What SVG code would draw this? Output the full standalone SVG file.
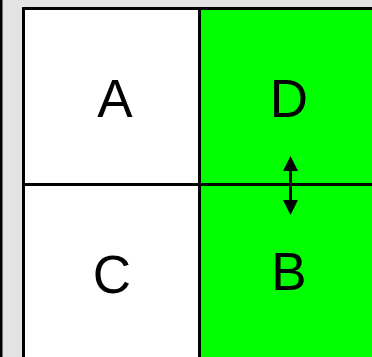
<svg xmlns="http://www.w3.org/2000/svg" width="372" height="357" viewBox="0 0 372 357">
<style>
.cell{stroke:#000;stroke-width:3}
.lbl{font-family:"Liberation Sans",Arial,sans-serif;font-size:53px;fill:#000;text-anchor:middle}
</style>
<defs>
<marker id="ah" viewBox="0 0 10 10" refX="10" refY="5" markerWidth="5" markerHeight="5" markerUnits="strokeWidth" orient="auto-start-reverse">
<path d="M0,0 L10,5 L0,10 z" fill="#000"/>
</marker>
</defs>
<rect x="0" y="0" width="372" height="357" fill="#e3e3e3"/>
<rect x="0" y="0" width="2.5" height="357" fill="#000"/>
<g id="A"><rect class="cell" x="23.5" y="8.5" width="176" height="176" fill="#fff"/><text class="lbl" x="115" y="117">A</text></g>
<g id="D"><rect class="cell" x="199.5" y="8.5" width="178" height="176" fill="#00ff00"/><text class="lbl" x="289" y="117">D</text></g>
<g id="C"><rect class="cell" x="23.5" y="184.5" width="176" height="178" fill="#fff"/><text class="lbl" x="112" y="293">C</text></g>
<g id="B"><rect class="cell" x="199.5" y="184.5" width="178" height="178" fill="#00ff00"/><text class="lbl" x="289" y="290">B</text></g>
<g id="connectors">
<line x1="290.5" y1="171" x2="290.5" y2="200" stroke="#000" stroke-width="3"/>
<path d="M290.5,156 L298,171 L283,171 z" fill="#000"/>
<path d="M290.5,215 L298,200 L283,200 z" fill="#000"/>
</g>
</svg>
